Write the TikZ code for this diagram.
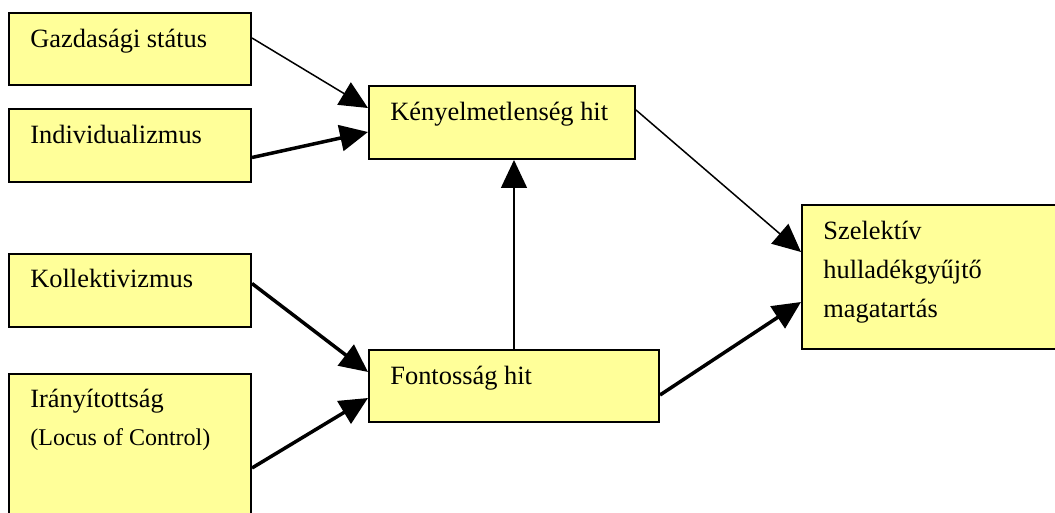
\documentclass[tikz,border=0pt]{standalone}
\usepackage{fontspec}
\setmainfont{Liberation Serif}
\usetikzlibrary{arrows.meta,calc}
\definecolor{boxfill}{HTML}{FFFF99}
\tikzset{
  box/.style={draw=black, line width=1pt, fill=boxfill, rectangle, anchor=north west, inner sep=0pt},
  lbl/.style={anchor=base west, inner sep=0pt, font=\fontsize{13.2}{16}\selectfont},
  small/.style={anchor=base west, inner sep=0pt, font=\fontsize{12}{14}\selectfont},
  thinarrow/.style={line width=0.75pt, -{Triangle[length=14pt,width=13pt]}},
  thickarrow/.style={line width=1.75pt, -{Triangle[length=14pt,width=13pt]}},
}
\begin{document}
\begin{tikzpicture}[x=0.5pt,y=-0.5pt]
  \clip (0,0) rectangle (1055,513);

  % boxes
  \node[box, minimum width=121pt, minimum height=36pt]   (gaz)  at (8,12)   {};
  \node[box, minimum width=121pt, minimum height=36.5pt] (ind)  at (8,108)  {};
  \node[box, minimum width=121pt, minimum height=36.5pt] (kol)  at (8,253)  {};
  \node[box, minimum width=121pt, minimum height=80pt]   (iran) at (8,373)  {};
  \node[box, minimum width=133pt, minimum height=36.5pt] (keny) at (368,85) {};
  \node[box, minimum width=145pt, minimum height=36pt]   (font) at (368,349) {};
  \node[box, minimum width=140pt, minimum height=72pt]   (szel) at (801,204) {};

  % labels
  \node[lbl] (tgaz)  at (30,48)   {Gazdasági státus};
  \node[lbl] (tind)  at (30,144)  {Individualizmus};
  \node[lbl] (tkol)  at (30,288)  {Kollektivizmus};
  \node[lbl] (tiran) at (30,408)  {Irányítottság};
  \node[small] (tloc) at (30,445) {(Locus of Control)};
  \node[lbl] (tkeny) at (390,121) {Kényelmetlenség hit};
  \node[lbl] (tfont) at (390,384) {Fontosság hit};
  \node[lbl] (tsz1)  at (823,240) {Szelektív};
  \node[lbl] (tsz2)  at (823,279) {hulladékgyűjtő};
  \node[lbl] (tsz3)  at (823,318) {magatartás};

  % connectors
  \draw[thinarrow]  ($(gaz.east)+(0,-11)$)  -- ($(keny.north west)+(0,23)$);
  \draw[thickarrow] ($(ind.east)+(0,12)$)   -- ($(keny.north west)+(0,47)$);
  \draw[thickarrow] ($(kol.east)+(0,-7)$)   -- ($(font.north west)+(0,23)$);
  \draw[thickarrow] ($(iran.north east)+(0,95)$) -- ($(font.north west)+(0,49)$);
  \draw[thinarrow]  (font.north) -- (font.north |- keny.south);
  \draw[thinarrow]  ($(keny.north east)+(0,25)$) -- ($(szel.north west)+(0,48)$);
  \draw[thickarrow] ($(font.north east)+(0,46)$) -- ($(szel.north west)+(0,98)$);
\end{tikzpicture}
\end{document}
